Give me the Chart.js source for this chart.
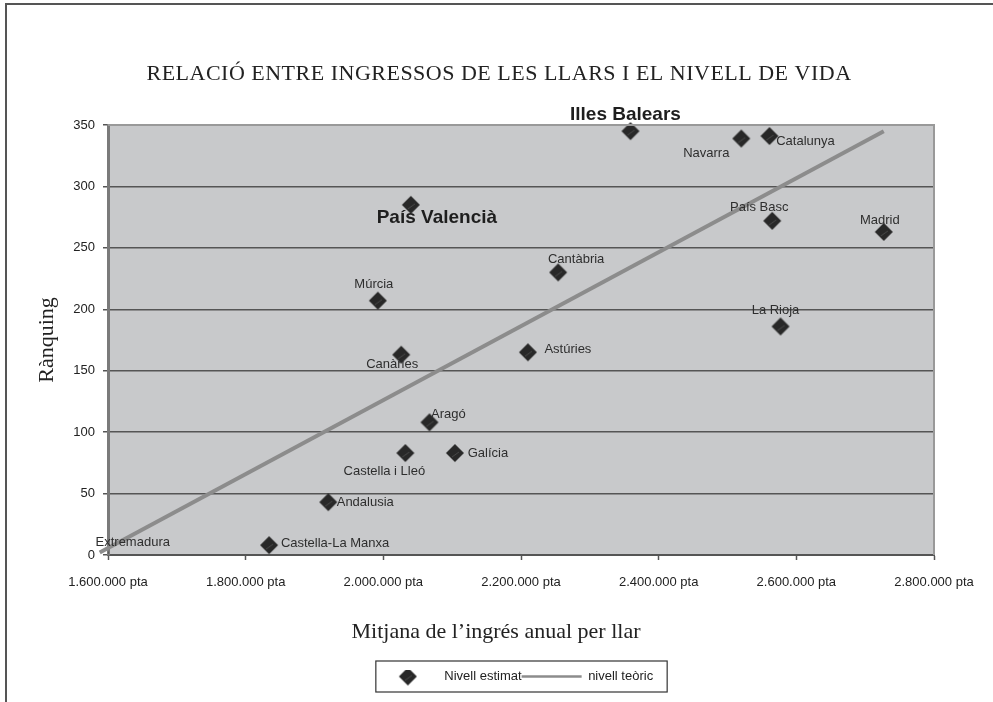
<!DOCTYPE html>
<html>
<head>
<meta charset="utf-8">
<script src="https://cdn.jsdelivr.net/npm/chart.js@4.4.0/dist/chart.umd.min.js"></script>
<style>
  body { margin: 0; background: #fff; }
  #wrap { position: relative; width: 993px; height: 702px; overflow: hidden; }
  #frame { position: absolute; left: 5px; top: 3px; right: -10px; bottom: -10px;
           border-top: 2px solid #555; border-left: 2px solid #555; }
  #chart { position: absolute; left: 0; top: 0; }
</style>
</head>
<body>
<div id="wrap">
  <div id="frame"></div>
  <canvas id="chart" width="993" height="702"></canvas>
</div>
<script>
// comunitats autonomes
var regions = ['Andalusia', 'Aragó', 'Astúries', 'Illes Balears', 'Canàries', 'Cantàbria',
  'Castella-La Manxa', 'Castella i Lleó', 'Catalunya', 'Extremadura', 'Galícia', 'Madrid',
  'Múrcia', 'Navarra', 'País Basc', 'La Rioja', 'País Valencià'];
// mitjana de l'ingrés anual per llar (pta)
var income = [1920000, 2067000, 2210000, 2359000, 2026000, 2254000,
  1834000, 2032000, 2561000, 1588000, 2104000, 2727000,
  1992000, 2520000, 2565000, 2577000, 2040000];
// rànquing (nivell estimat)
var ranking = [43, 108, 165, 345, 163, 230,
  8, 83, 341, 2, 83, 263,
  207, 339, 272, 186, 285];
// nivell teòric (recta)
var teoricIncome = [1588000, 2727000];
var teoricLevel = [2, 345];

var xTicks = [1600000, 1800000, 2000000, 2200000, 2400000, 2600000, 2800000];
var yTicks = [0, 50, 100, 150, 200, 250, 300, 350];

// where each label sits relative to its marker (px)
var labelOffsets = [[37, 0], [19, -8], [40, -3], [-5, -16], [-9, 10], [18, -13],
  [66, -2], [-21, 18], [36, 5], [33, -10], [33, 0], [-4, -11],
  [-4, -16], [-35, 15], [-13, -13], [-5, -16], [26, 13]];
var boldLabels = ['Illes Balears', 'País Valencià'];

function pta(v) {
  return String(v).replace(/\B(?=(\d{3})+(?!\d))/g, '.') + ' pta';
}

// diamond marker
var marker = document.createElement('canvas');
marker.width = 20; marker.height = 20;
(function () {
  var c = marker.getContext('2d');
  c.fillStyle = '#282828';
  c.beginPath();
  c.moveTo(10, 1); c.lineTo(19, 10); c.lineTo(10, 19); c.lineTo(1, 10);
  c.closePath();
  c.fill();
  c.strokeStyle = 'rgba(150,150,150,0.45)';
  c.lineWidth = 0.7;
  c.beginPath();
  c.moveTo(7, 14); c.lineTo(14, 9);
  c.stroke();
})();

var scatterPoints = income.map(function (x, i) { return { x: x, y: ranking[i] }; });
var teoricPoints = teoricIncome.map(function (x, i) { return { x: x, y: teoricLevel[i] }; });

var plotBackground = {
  id: 'plotBackground',
  beforeDraw: function (chart) {
    var a = chart.chartArea, ctx = chart.ctx;
    ctx.save();
    ctx.fillStyle = '#c8c9cb';
    ctx.fillRect(a.left, a.top, a.right - a.left, a.bottom - a.top);
    ctx.restore();
  },
  afterDraw: function (chart) {
    var a = chart.chartArea, ctx = chart.ctx;
    ctx.save();
    ctx.strokeStyle = '#999';
    ctx.lineWidth = 2;
    ctx.beginPath();
    ctx.moveTo(a.left, a.top); ctx.lineTo(a.right, a.top); ctx.lineTo(a.right, a.bottom);
    ctx.stroke();
    ctx.restore();
  }
};

// the legend sits a bit right of the page centre
var legendShift = {
  id: 'legendShift',
  afterLayout: function (chart) {
    chart.legend.left += 17;
    chart.legend.right += 17;
  }
};

var pointLabels = {
  id: 'pointLabels',
  afterDatasetsDraw: function (chart) {
    var ctx = chart.ctx;
    var meta = chart.getDatasetMeta(0);
    ctx.save();
    ctx.textAlign = 'center';
    ctx.textBaseline = 'middle';
    meta.data.forEach(function (pt, i) {
      var bold = boldLabels.indexOf(regions[i]) >= 0;
      ctx.font = bold ? 'bold 19px "Liberation Sans", Arial, sans-serif' : '13px "Liberation Sans", Arial, sans-serif';
      ctx.fillStyle = bold ? '#1e1e1e' : '#2e2e2e';
      ctx.fillText(regions[i], pt.x + labelOffsets[i][0], pt.y + labelOffsets[i][1]);
    });
    ctx.restore();
  }
};

var textBits = {
  id: 'textBits',
  afterDraw: function (chart) {
    var ctx = chart.ctx;
    var leg = chart.legend;
    ctx.save();
    ctx.fillStyle = '#222';
    ctx.textAlign = 'center';
    ctx.textBaseline = 'middle';
    ctx.font = '22px "Liberation Serif", "Times New Roman", serif';
    ctx.letterSpacing = '0.5px';
    ctx.fillText('RELACIÓ ENTRE INGRESSOS DE LES LLARS I EL NIVELL DE VIDA', 499, 74);
    ctx.letterSpacing = '0px';
    ctx.fillText('Mitjana de l\u2019ingrés anual per llar', 496, 632);
    ctx.save();
    ctx.translate(47, 340);
    ctx.rotate(-Math.PI / 2);
    ctx.fillText('Rànquing', 0, 0);
    ctx.restore();
    // legend frame
    var boxes = leg.legendHitBoxes;
    var l = boxes[0].left - 2;
    var last = boxes[boxes.length - 1];
    var r = last.left + last.width + 14;
    ctx.strokeStyle = '#333';
    ctx.lineWidth = 1.2;
    ctx.strokeRect(l, leg.top - 9, r - l, 31);
    ctx.restore();
  }
};

new Chart(document.getElementById('chart'), {
  type: 'scatter',
  data: {
    datasets: [
      {
        label: 'Nivell estimat',
        data: scatterPoints,
        pointStyle: marker,
        pointRadius: 9,
        backgroundColor: '#282828',
        borderColor: '#282828',
        clip: { left: 0, top: 20, right: 20, bottom: 20 }
      },
      {
        label: 'nivell teòric',
        data: teoricPoints,
        showLine: true,
        pointRadius: 0,
        pointStyle: 'line',
        borderColor: '#8c8c8c',
        backgroundColor: '#8c8c8c',
        borderWidth: 4,
        clip: false
      }
    ]
  },
  options: {
    responsive: false,
    animation: false,
    layout: { padding: { top: 125, left: 63, right: 59, bottom: 9 }, autoPadding: false },
    plugins: {
      title: { display: false },
      tooltip: { enabled: false },
      legend: {
        position: 'bottom',
        labels: {
          usePointStyle: true,
          pointStyleWidth: 60,
          padding: 0,
          color: '#222',
          font: { family: '"Liberation Sans", Arial, sans-serif', size: 13 },
          generateLabels: function (chart) {
            var items = Chart.defaults.plugins.legend.labels.generateLabels(chart);
            items.forEach(function (it) {
              if (it.datasetIndex === 1) it.lineWidth = 2.5;
            });
            return items;
          }
        }
      }
    },
    scales: {
      x: {
        type: 'linear',
        min: xTicks[0],
        max: xTicks[xTicks.length - 1],
        afterBuildTicks: function (scale) {
          scale.ticks = xTicks.map(function (v) { return { value: v }; });
        },
        afterFit: function (scale) { scale.height = 115; },
        ticks: {
          autoSkip: false,
          maxRotation: 0,
          padding: 15,
          color: '#222',
          font: { family: '"Liberation Sans", Arial, sans-serif', size: 13 },
          callback: function (v) { return pta(v); }
        },
        grid: {
          drawOnChartArea: false,
          drawTicks: true,
          tickLength: 5,
          tickColor: '#555',
          tickWidth: 1.5
        },
        border: { color: '#555', width: 2 }
      },
      y: {
        min: yTicks[0],
        max: yTicks[yTicks.length - 1],
        afterBuildTicks: function (scale) {
          scale.ticks = yTicks.map(function (v) { return { value: v }; });
        },
        afterFit: function (scale) { scale.width = 45; },
        ticks: {
          padding: 8,
          color: '#222',
          font: { family: '"Liberation Sans", Arial, sans-serif', size: 13 }
        },
        grid: {
          color: function (c) { return c.tick && c.tick.value === 350 ? '#999' : '#555'; },
          lineWidth: 1.5,
          drawTicks: true,
          tickLength: 5,
          tickColor: '#555'
        },
        border: { color: '#7a7a7a', width: 3 }
      }
    }
  },
  plugins: [plotBackground, legendShift, pointLabels, textBits]
});
</script>
</body>
</html>
